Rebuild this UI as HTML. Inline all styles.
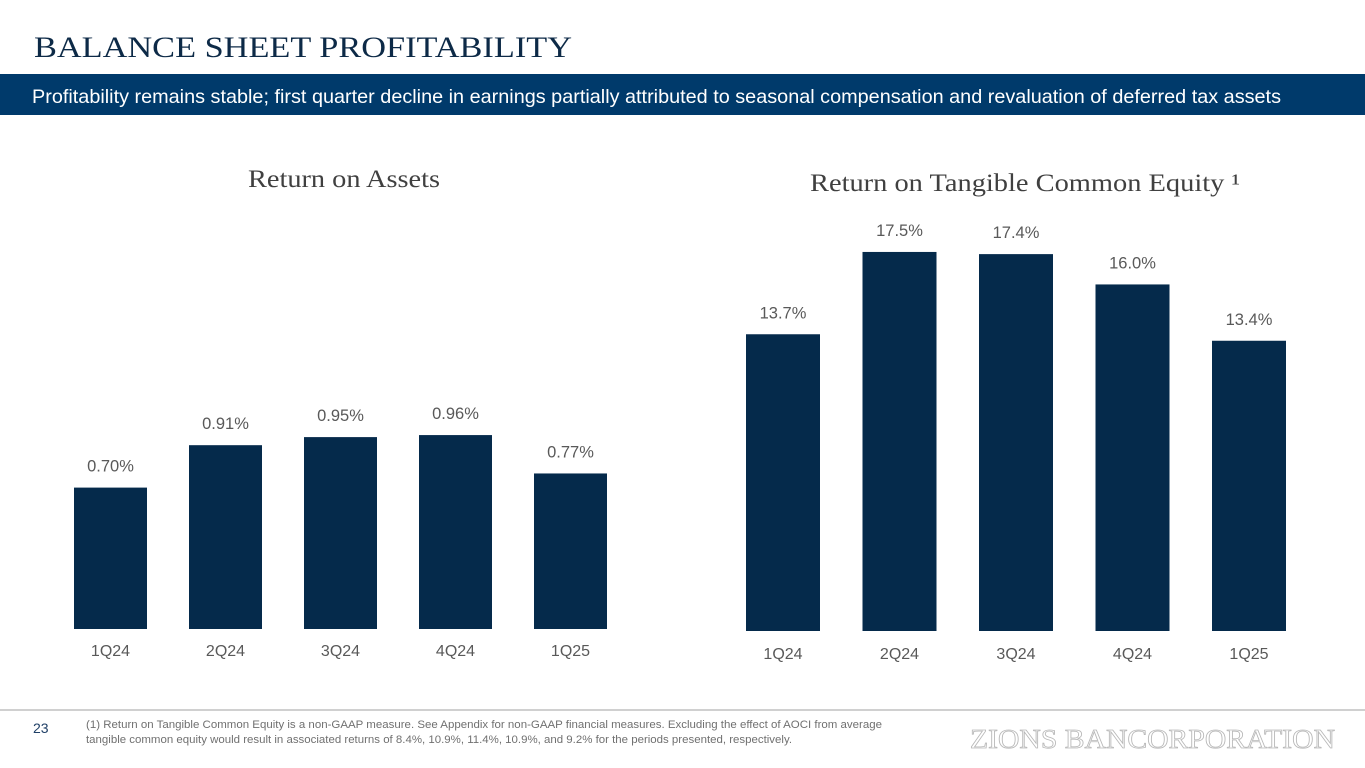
<!DOCTYPE html>
<html><head><meta charset="utf-8"><style>
body{margin:0;width:1365px;height:768px;background:#fff;overflow:hidden;font-family:"Liberation Sans",sans-serif}
svg{display:block}
</style></head><body>
<svg id="s" width="1365" height="768" xmlns="http://www.w3.org/2000/svg">
<text x="34" y="57" font-family="Liberation Serif,serif" font-size="30" textLength="538" lengthAdjust="spacingAndGlyphs" fill="#0d2a47">BALANCE SHEET PROFITABILITY</text>
<rect x="0" y="74" width="1365" height="41" fill="#003a6b"/>
<text x="32" y="103" font-size="19.5" textLength="1249" lengthAdjust="spacingAndGlyphs" fill="#fff">Profitability remains stable; first quarter decline in earnings partially attributed to seasonal compensation and revaluation of deferred tax assets</text>
<text x="248" y="187" font-family="Liberation Serif,serif" font-size="25" textLength="192" lengthAdjust="spacingAndGlyphs" fill="#404040">Return on Assets</text>
<text x="810" y="191" font-family="Liberation Serif,serif" font-size="25" textLength="430" lengthAdjust="spacingAndGlyphs" fill="#404040">Return on Tangible Common Equity ¹</text>
<g id="roa"></g>
<g id="rotce"></g>
<line x1="0" y1="710" x2="1365" y2="710" stroke="#d0d0d0" stroke-width="2"/>
<text x="33" y="733" font-size="14" fill="#1f3f66">23</text>
<text x="86" y="728" font-size="11" textLength="796" lengthAdjust="spacingAndGlyphs" fill="#707070">(1) Return on Tangible Common Equity is a non-GAAP measure. See Appendix for non-GAAP financial measures. Excluding the effect of AOCI from average</text>
<text x="86" y="743" font-size="11" textLength="706" lengthAdjust="spacingAndGlyphs" fill="#707070">tangible common equity would result in associated returns of 8.4%, 10.9%, 11.4%, 10.9%, and 9.2% for the periods presented, respectively.</text>
<text x="970" y="748" font-family="Liberation Serif,serif" font-size="27" textLength="365" lengthAdjust="spacingAndGlyphs" fill="#fff" stroke="#b8b8b8" stroke-width="0.8">ZIONS BANCORPORATION</text>
</svg>
<script>
const categories=["1Q24","2Q24","3Q24","4Q24","1Q25"];
const roaValues=[0.70,0.91,0.95,0.96,0.77];
const roaLabels=["0.70%","0.91%","0.95%","0.96%","0.77%"];
const rotceValues=[13.7,17.5,17.4,16.0,13.4];
const rotceLabels=["13.7%","17.5%","17.4%","16.0%","13.4%"];
const NS="http://www.w3.org/2000/svg";
function draw(g,vals,labels,x0,step,w,base,scale,catY,prefix){
  const y=v=>base-v*scale;
  vals.forEach((v,i)=>{
    const x=x0+i*step;
    const r=document.createElementNS(NS,"rect");
    r.setAttribute("x",x);r.setAttribute("y",y(v));r.setAttribute("width",w);r.setAttribute("height",base-y(v));r.setAttribute("fill","#052a4b");
    
    
    g.appendChild(r);
    const t=document.createElementNS(NS,"text");
    t.setAttribute("x",x+w/2);t.setAttribute("y",y(v)-16);t.setAttribute("text-anchor","middle");t.setAttribute("font-size","16.5");t.setAttribute("fill","#595959");
    t.textContent=labels[i];
    
    
    g.appendChild(t);
    const c=document.createElementNS(NS,"text");
    c.setAttribute("x",x+w/2);c.setAttribute("y",catY);c.setAttribute("text-anchor","middle");c.setAttribute("font-size","16");c.setAttribute("fill","#595959");
    c.textContent=categories[i];
    
    
    g.appendChild(c);
  });
}
draw(document.getElementById("roa"),roaValues,roaLabels,74,115,73,629,202,656,"roa");
draw(document.getElementById("rotce"),rotceValues,rotceLabels,746,116.5,74,631,21.66,659,"rotce");
</script>
</body></html>
